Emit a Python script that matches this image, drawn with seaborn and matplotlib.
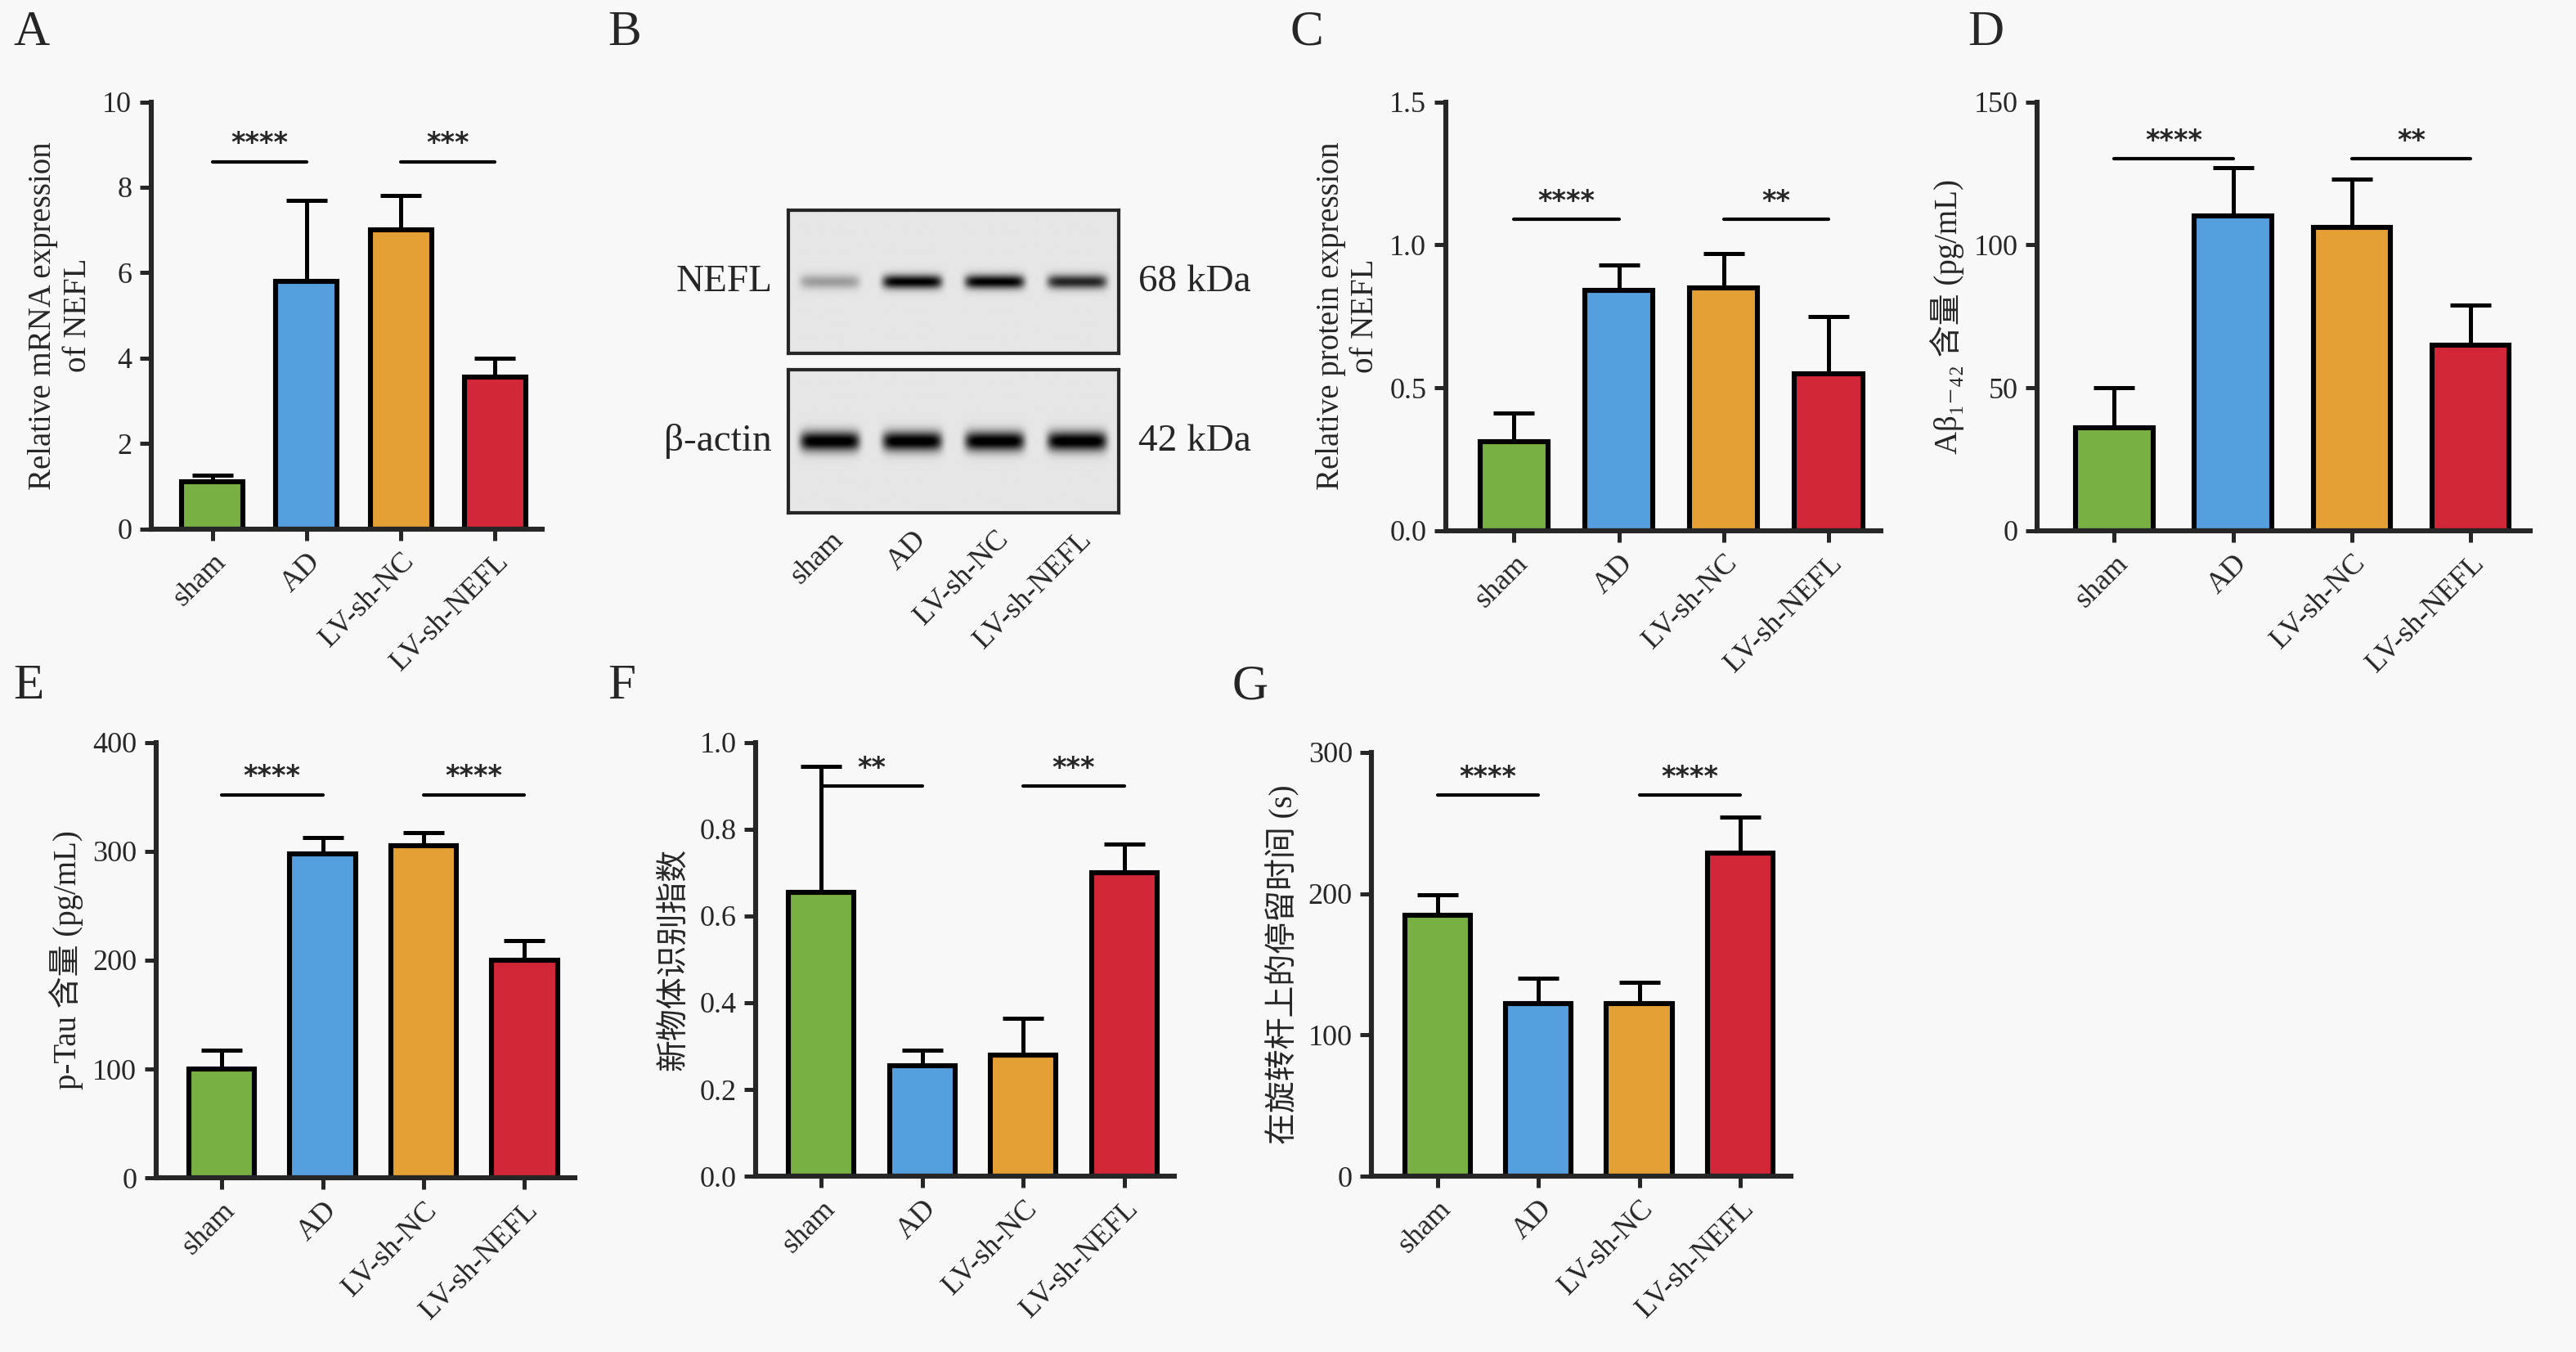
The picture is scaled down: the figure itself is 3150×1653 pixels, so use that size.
import numpy as np
import pandas as pd
import matplotlib
matplotlib.use("Agg")
import matplotlib.pyplot as plt
import seaborn as sns

sns.set_style("ticks")
plt.rcParams['font.family'] = ['Liberation Serif', 'Noto Sans CJK SC', 'DejaVu Sans']

# data
groups = ['sham', 'AD', 'LV-sh-NC', 'LV-sh-NEFL']
colors = ['#78b043', '#569fdf', '#e5a035', '#d22738']

mrna = [1.1, 5.8, 7.0, 3.55]
mrna_err = [0.15, 1.9, 0.8, 0.45]
protein = [0.31, 0.84, 0.85, 0.55]
protein_err = [0.10, 0.09, 0.12, 0.20]
abeta = [36, 110, 106, 65]
abeta_err = [14, 17, 17, 14]
ptau = [100, 298, 305, 200]
ptau_err = [17, 15, 12, 18]
nori = [0.655, 0.255, 0.28, 0.70]
nori_err = [0.29, 0.035, 0.085, 0.065]
rotarod = [185, 122, 122, 229]
rotarod_err = [14, 18, 15, 25]

nefl_band = [0.30, 0.95, 0.95, 0.80]
actin_band = [1.0, 1.0, 1.0, 1.0]

fig = plt.figure(figsize=(15.75, 8.265), dpi=200)
fig.patch.set_facecolor('#f8f8f8')
W, H = 1568, 823


def add_ax(x0, x1, ytop, ybot):
    return fig.add_axes([x0 / W, 1 - ybot / H, (x1 - x0) / W, (ybot - ytop) / H])


def bar_panel(ax, vals, errs, ylim, ticks, ylabel, sigs, letter, lx, ly):
    df = pd.DataFrame({'g': groups, 'v': vals})
    sns.barplot(data=df, x='g', y='v', hue='g', palette=colors, ax=ax, saturation=1,
                width=0.65, edgecolor='black', linewidth=2.2, legend=False, errorbar=None)
    ax.errorbar(range(4), vals, yerr=[np.zeros(4), errs], fmt='none',
                ecolor='black', elinewidth=1.8, capsize=9, capthick=1.8)
    ax.set_facecolor('#f8f8f8')
    ax.set_xlim(-0.65, 3.5)
    ax.set_ylim(0, ylim)
    ax.set_yticks(ticks)
    ax.set_xlabel('')
    ax.set_ylabel(ylabel, fontsize=14)
    ax.set_xticks(range(4))
    ax.set_xticklabels(groups, rotation=45, ha='right', rotation_mode='anchor', fontsize=13)
    ax.tick_params(axis='both', width=1.8, length=5, labelsize=13)
    for s in ['top', 'right']:
        ax.spines[s].set_visible(False)
    for s in ['left', 'bottom']:
        ax.spines[s].set_linewidth(2.2)
    for (i, j, h, txt) in sigs:
        ax.plot([i, j], [h, h], color='black', lw=1.5)
        ax.text((i + j) / 2, h + ylim * 0.01, txt, ha='center', va='bottom',
                fontsize=12, fontweight='bold', family='DejaVu Sans')
    fig.text(lx / W, 1 - ly / H, letter, fontsize=22, ha='left', va='center')


ax = add_ax(92, 330, 62, 322)
bar_panel(ax, mrna, mrna_err, 10, [0, 2, 4, 6, 8, 10], 'Relative mRNA expression\nof NEFL',
          [(0, 1, 8.6, '****'), (2, 3, 8.6, '***')], 'A', 8, 20)

ax = add_ax(880, 1145, 62, 323)
bar_panel(ax, protein, protein_err, 1.5, [0, 0.5, 1.0, 1.5], 'Relative protein expression\nof NEFL',
          [(0, 1, 1.09, '****'), (2, 3, 1.09, '**')], 'C', 785, 20)
ax.set_yticklabels(['0.0', '0.5', '1.0', '1.5'])

ax = add_ax(1240, 1540, 62, 323)
bar_panel(ax, abeta, abeta_err, 150, [0, 50, 100, 150], 'Aβ₁₋₄₂ 含量 (pg/mL)',
          [(0, 1, 130, '****'), (2, 3, 130, '**')], 'D', 1198, 20)

ax = add_ax(95, 350, 452, 717)
bar_panel(ax, ptau, ptau_err, 400, [0, 100, 200, 300, 400], 'p-Tau 含量 (pg/mL)',
          [(0, 1, 352, '****'), (2, 3, 352, '****')], 'E', 8, 418)

ax = add_ax(460, 715, 452, 716)
bar_panel(ax, nori, nori_err, 1.0, [0, 0.2, 0.4, 0.6, 0.8, 1.0], '新物体识别指数',
          [(0, 1, 0.9, '**'), (2, 3, 0.9, '***')], 'F', 370, 418)
ax.set_yticklabels(['0.0', '0.2', '0.4', '0.6', '0.8', '1.0'])

ax = add_ax(835, 1090, 458, 716)
bar_panel(ax, rotarod, rotarod_err, 300, [0, 100, 200, 300], '在旋转杆上的停留时间 (s)',
          [(0, 1, 270, '****'), (2, 3, 270, '****')], 'G', 750, 418)

# B: western blot
fig.text(370 / W, 1 - 20 / H, 'B', fontsize=22, ha='left', va='center')
xs = np.linspace(0, 4, 400)
ys = np.linspace(-1, 1, 180)
X, Y = np.meshgrid(xs, ys)
for (ytop, ybot, bands, name, kda, sig) in [(128, 215, nefl_band, 'NEFL', '68 kDa', 0.10),
                                            (225, 312, actin_band, 'β-actin', '42 kDa', 0.14)]:
    bax = add_ax(480, 681, ytop, ybot)
    img = np.zeros_like(X)
    for k, b in enumerate(bands):
        img += b * np.exp(-((X - (k + 0.5)) / 0.36) ** 8 - (Y / sig) ** 2)
    bax.imshow(1 - 0.95 * np.clip(img, 0, 1) - 0.1, cmap='gray', vmin=0, vmax=1,
               aspect='auto', extent=[0, 4, -1, 1])
    for s in bax.spines.values():
        s.set_linewidth(1.5)
    bax.set_xticks([])
    bax.set_yticks([])
    fig.text(470 / W, 1 - (ytop + ybot) / 2 / H, name, fontsize=17, ha='right', va='center')
    fig.text(693 / W, 1 - (ytop + ybot) / 2 / H, kda, fontsize=17, ha='left', va='center')
    if name == 'β-actin':
        bax.set_xticks([0.5, 1.5, 2.5, 3.5])
        bax.set_xticklabels(groups, rotation=45, ha='right', rotation_mode='anchor', fontsize=13)
        bax.tick_params(length=0, pad=6)

fig.savefig('out.png', dpi=200, facecolor=fig.get_facecolor())
